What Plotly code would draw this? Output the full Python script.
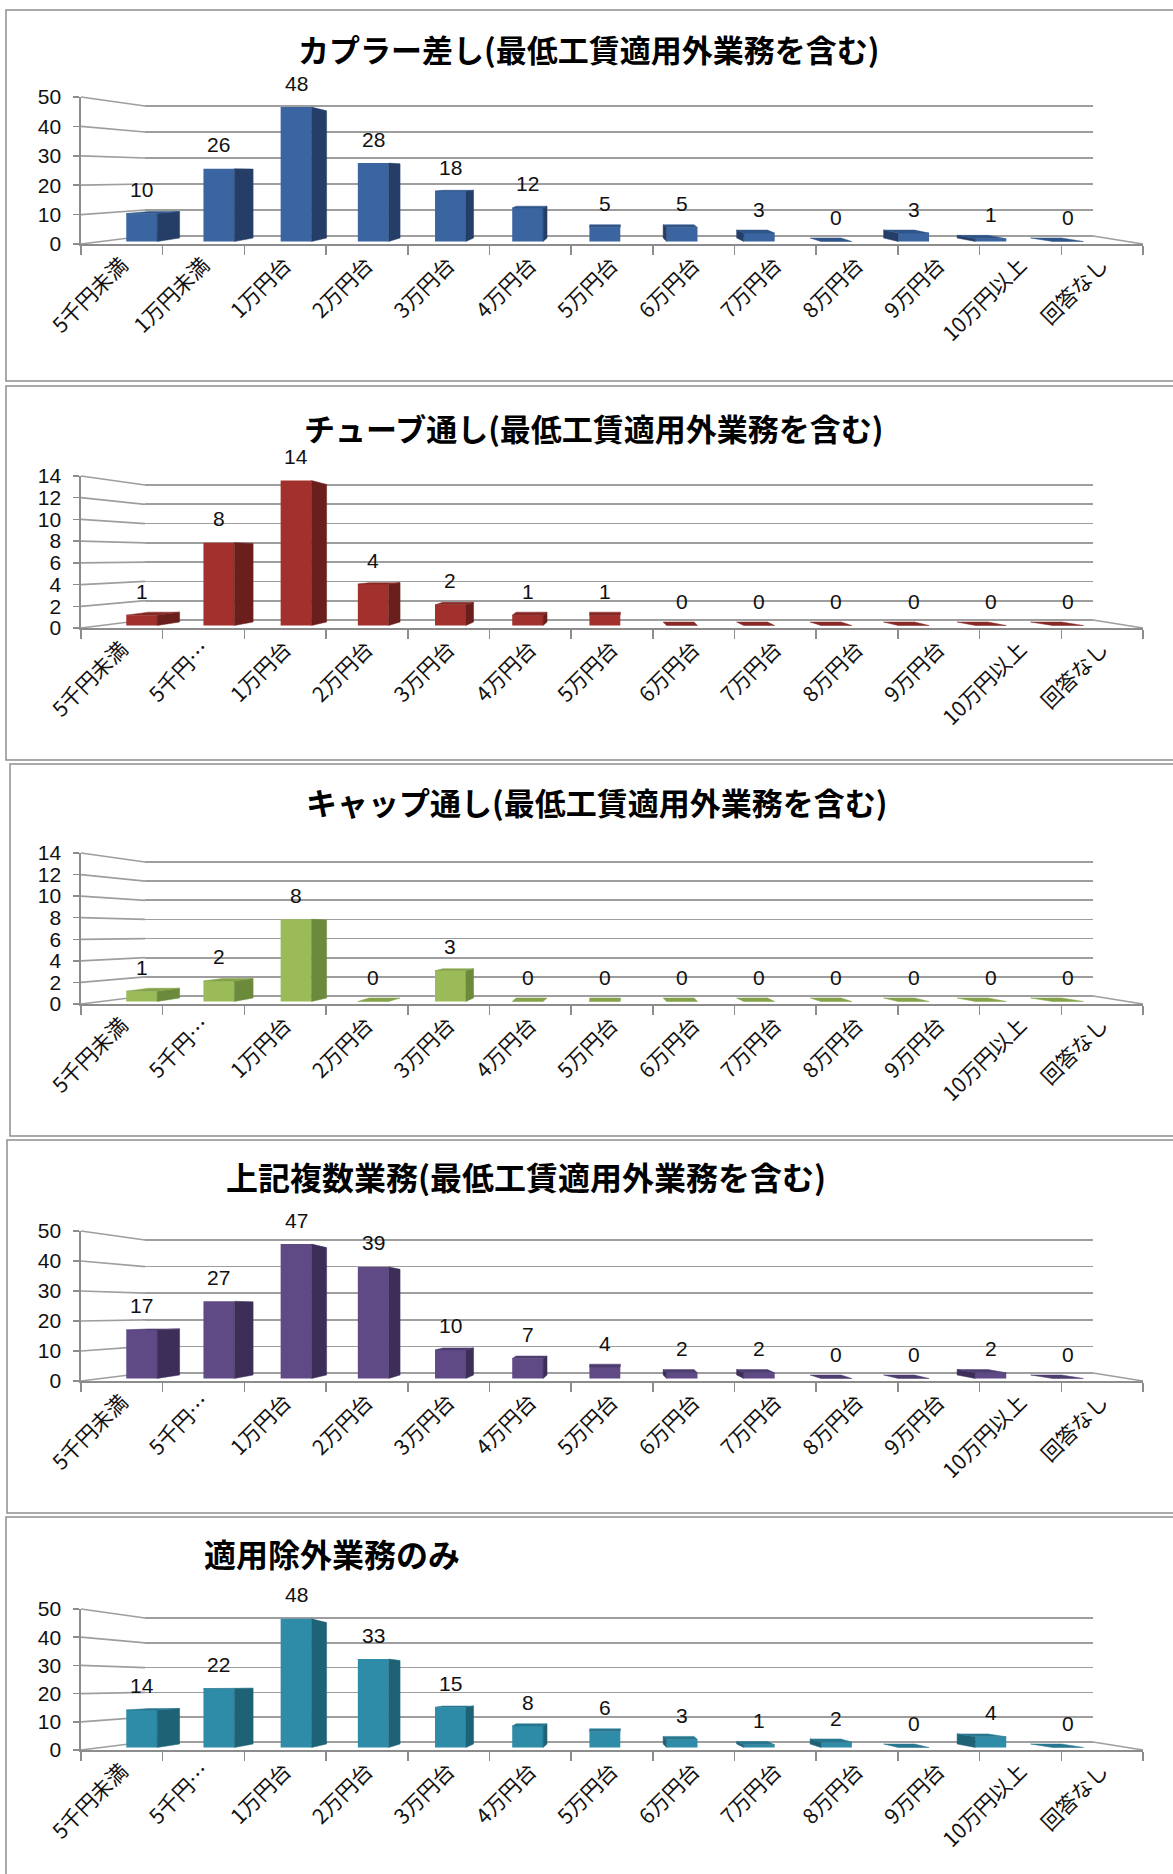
import plotly.graph_objects as go

W, H = 1173, 1874

# ---------------- data ----------------
cats_coupler = ["5千円未満", "1万円未満", "1万円台", "2万円台", "3万円台", "4万円台", "5万円台",
                "6万円台", "7万円台", "8万円台", "9万円台", "10万円以上", "回答なし"]
cats_other = ["5千円未満", "5千円…", "1万円台", "2万円台", "3万円台", "4万円台", "5万円台",
              "6万円台", "7万円台", "8万円台", "9万円台", "10万円以上", "回答なし"]

titles = ["カプラー差し(最低工賃適用外業務を含む)",
          "チューブ通し(最低工賃適用外業務を含む)",
          "キャップ通し(最低工賃適用外業務を含む)",
          "上記複数業務(最低工賃適用外業務を含む)",
          "適用除外業務のみ"]

vals_coupler = [10, 26, 48, 28, 18, 12, 5, 5, 3, 0, 3, 1, 0]
vals_tube = [1, 8, 14, 4, 2, 1, 1, 0, 0, 0, 0, 0, 0]
vals_cap = [1, 2, 8, 0, 3, 0, 0, 0, 0, 0, 0, 0, 0]
vals_multi = [17, 27, 47, 39, 10, 7, 4, 2, 2, 0, 0, 2, 0]
vals_exempt = [14, 22, 48, 33, 15, 8, 6, 3, 1, 2, 0, 4, 0]

y_max = [50, 14, 14, 50, 50]
y_step = [10, 2, 2, 10, 10]

# ---------------- styling / geometry ----------------
panels = [
    dict(cats=cats_coupler, vals=vals_coupler, title=titles[0], ymax=y_max[0], dt=y_step[0],
         front="#3a65a1", side="#243e67", topc="#2f5488",
         top=10, bot=381, left=6, F0=244, Ft=97, ty=48, tx=588, tsize=31),
    dict(cats=cats_other, vals=vals_tube, title=titles[1], ymax=y_max[1], dt=y_step[1],
         front="#a2302d", side="#6b1f1d", topc="#862826",
         top=386, bot=760, left=6, F0=628, Ft=476, ty=427, tx=594, tsize=31),
    dict(cats=cats_other, vals=vals_cap, title=titles[2], ymax=y_max[2], dt=y_step[2],
         front="#9bbb59", side="#6b8a3b", topc="#84a34b",
         top=764, bot=1136, left=10, F0=1004, Ft=853, ty=801, tx=596, tsize=31),
    dict(cats=cats_other, vals=vals_multi, title=titles[3], ymax=y_max[3], dt=y_step[3],
         front="#5f4a86", side="#3c2e58", topc="#4e3d70",
         top=1140, bot=1513, left=7, F0=1381, Ft=1231, ty=1176, tx=526, tsize=32),
    dict(cats=cats_other, vals=vals_exempt, title=titles[4], ymax=y_max[4], dt=y_step[4],
         front="#2f8ca8", side="#1e6276", topc="#26778f",
         top=1517, bot=1890, left=6, F0=1750, Ft=1609, ty=1553, tx=332, tsize=32),
]

GRID = "#9e9e9e"
AXC = "#8c8c8c"
NUMFONT = "Liberation Sans Narrow, Liberation Sans, Arial, sans-serif"
JPFONT = "Noto Sans CJK JP, sans-serif"

X0, X1 = 81, 1143          # front floor edge (px)
B0, B1 = 145, 1093         # back wall (px)
C0, C12 = 141.7, 1068.0    # bar centres (px)
VP = 610.0                 # vanishing x (px)
SIDE_K = 0.048
RISE0 = 3.5
BAR_W = 0.4


def lin(p0, p1, v1):
    return lambda v: p0 + (p1 - p0) * v / v1


def ydom(f, r0, r1):
    return [1 - f(r0) / H, 1 - f(r1) / H]


fig = go.Figure()
layout = dict(template="none", width=W, height=H, margin=dict(l=0, r=0, t=0, b=0, pad=0),
              autosize=False,
              paper_bgcolor="white", plot_bgcolor="rgba(0,0,0,0)",
              showlegend=False, shapes=[], annotations=[])

for k, p in enumerate(panels):
    ib, i_f, im = 3 * k + 1, 3 * k + 2, 3 * k + 3
    ymax, dt = p["ymax"], p["dt"]
    n = len(p["cats"])
    F0, Ft = p["F0"], p["Ft"]
    front_y = lin(F0, Ft, ymax)
    back_y = lin(F0 - 8, Ft + 9, ymax)
    mid_y = lin(F0 - 2.5, Ft + 4.5, ymax)
    spacing = (C12 - C0) / (n - 1)
    mid_x = lambda i: C0 + i * spacing
    mid_ppu = (mid_y(0) - mid_y(ymax)) / ymax

    # panel border
    layout["shapes"].append(dict(type="rect", xref="paper", yref="paper", layer="below",
                                 x0=p["left"] / W, x1=1.02, y0=1 - p["bot"] / H, y1=1 - p["top"] / H,
                                 line=dict(color="#8f8f8f", width=1.5), fillcolor="rgba(0,0,0,0)"))

    # ---- back wall axes (gridlines) ----
    pad = ymax * 0.01
    layout[f"xaxis{ib}"] = dict(domain=[B0 / W, B1 / W], range=[0, 1], visible=False,
                                anchor=f"y{ib}", fixedrange=True, automargin=False)
    layout[f"yaxis{ib}"] = dict(domain=ydom(back_y, -pad, ymax + pad), range=[-pad, ymax + pad],
                                anchor=f"x{ib}", dtick=dt, tick0=0, showgrid=True, gridcolor=GRID,
                                gridwidth=1.7, zeroline=True, zerolinecolor=GRID, zerolinewidth=1.7,
                                showticklabels=False, ticks="", showline=False, fixedrange=True,
                                automargin=False)
    fig.add_trace(go.Scatter(x=[0.5], y=[0], mode="markers", marker=dict(opacity=0),
                             hoverinfo="skip", xaxis=f"x{ib}", yaxis=f"y{ib}"))

    # left wall & right floor edge
    v = 0
    while v <= ymax + 1e-9:
        layout["shapes"].append(dict(type="line", xref="paper", yref="paper", layer="below",
                                     x0=X0 / W, y0=1 - front_y(v) / H, x1=B0 / W, y1=1 - back_y(v) / H,
                                     line=dict(color=GRID, width=1.7)))
        v += dt
    layout["shapes"].append(dict(type="line", xref="paper", yref="paper", layer="below",
                                 x0=B1 / W, y0=1 - back_y(0) / H, x1=X1 / W, y1=1 - front_y(0) / H,
                                 line=dict(color=GRID, width=1.7)))

    # ---- front axes (tick labels, axis lines) ----
    layout[f"xaxis{i_f}"] = dict(domain=[X0 / W, X1 / W], range=[-0.5, n - 0.5], anchor=f"y{i_f}",
                                 tickmode="array", tickvals=list(range(n)), ticktext=p["cats"],
                                 tickangle=-45, ticks="", showgrid=False, zeroline=False,
                                 showline=True, linecolor=AXC, linewidth=1.6,
                                 tickfont=dict(family=JPFONT, size=21, color="#111"),
                                 ticklabelstandoff=-1, automargin=False,
                                 minor=dict(ticks="outside", ticklen=9, tickwidth=1.5, tickcolor=AXC,
                                            tick0=-0.5, dtick=1, showgrid=False),
                                 fixedrange=True)
    layout[f"yaxis{i_f}"] = dict(domain=ydom(front_y, 0, ymax), range=[0, ymax], anchor=f"x{i_f}",
                                 dtick=dt, tick0=0, showgrid=False, zeroline=False,
                                 showline=True, linecolor=AXC, linewidth=1.6,
                                 ticks="outside", ticklen=6, tickwidth=1.5, tickcolor=AXC,
                                 tickfont=dict(family=NUMFONT, size=21, color="#111"),
                                 ticklabelstandoff=8, fixedrange=True, automargin=False)
    fig.add_trace(go.Scatter(x=[0], y=[0], mode="markers", marker=dict(opacity=0),
                             hoverinfo="skip", xaxis=f"x{i_f}", yaxis=f"y{i_f}"))

    # ---- mid axes: bars ----
    r0, r1 = -0.1 * ymax, 1.12 * ymax
    layout[f"xaxis{im}"] = dict(domain=[mid_x(-0.5) / W, mid_x(n - 0.5) / W], range=[-0.5, n - 0.5],
                                anchor=f"y{im}", visible=False, fixedrange=True, automargin=False)
    layout[f"yaxis{im}"] = dict(domain=ydom(mid_y, r0, r1), range=[r0, r1], anchor=f"x{im}",
                                visible=False, fixedrange=True, automargin=False)

    eye = 0.47 * ymax
    sx, sy, tx_, ty_ = [], [], [], []
    for i, val in enumerate(p["vals"]):
        c = mid_x(i)
        sgn = 1 if c < VP else -1
        sw = SIDE_K * abs(c - VP) / spacing * sgn
        rise_v = RISE0 * (1 - val / eye) / mid_ppu
        rise_0 = RISE0 / mid_ppu
        xe = i + sgn * BAR_W / 2
        if val > 0 and abs(sw) > 0.01:
            sx += [xe, xe, xe + sw, xe + sw, xe, None]
            sy += [0, val, val + rise_v, rise_0, 0, None]
        if rise_v > 0:
            a, b = i - BAR_W / 2, i + BAR_W / 2
            tx_ += [a, b, b + sw, a + sw, a, None]
            ty_ += [val, val, val + rise_v, val + rise_v, val, None]
    fig.add_trace(go.Scatter(x=sx, y=sy, mode="lines", fill="toself", fillcolor=p["side"],
                             line=dict(width=0.5, color=p["side"]), hoverinfo="skip",
                             xaxis=f"x{im}", yaxis=f"y{im}"))
    fig.add_trace(go.Scatter(x=tx_, y=ty_, mode="lines", fill="toself", fillcolor=p["topc"],
                             line=dict(width=0.5, color=p["topc"]), hoverinfo="skip",
                             xaxis=f"x{im}", yaxis=f"y{im}"))
    fig.add_trace(go.Bar(x=list(range(n)), y=p["vals"], width=BAR_W,
                         marker=dict(color=p["front"], line=dict(width=0)),
                         hoverinfo="skip", xaxis=f"x{im}", yaxis=f"y{im}"))

    for i, val in enumerate(p["vals"]):
        layout["annotations"].append(dict(x=i, y=val, xref=f"x{im}", yref=f"y{im}", text=str(val),
                                          showarrow=False, yshift=24, yanchor="middle",
                                          font=dict(family=NUMFONT, size=21, color="#111")))

    # title
    layout["annotations"].append(dict(x=p["tx"] / W, y=1 - p["ty"] / H, xref="paper", yref="paper",
                                      text=f"<b>{p['title']}</b>", showarrow=False,
                                      xanchor="center", yanchor="middle",
                                      font=dict(family=JPFONT, size=p["tsize"], color="#000")))

fig.update_layout(**layout)
fig.write_html("out.html", config={"displayModeBar": False, "staticPlot": True},
               post_script="document.body.style.margin='0px';")
